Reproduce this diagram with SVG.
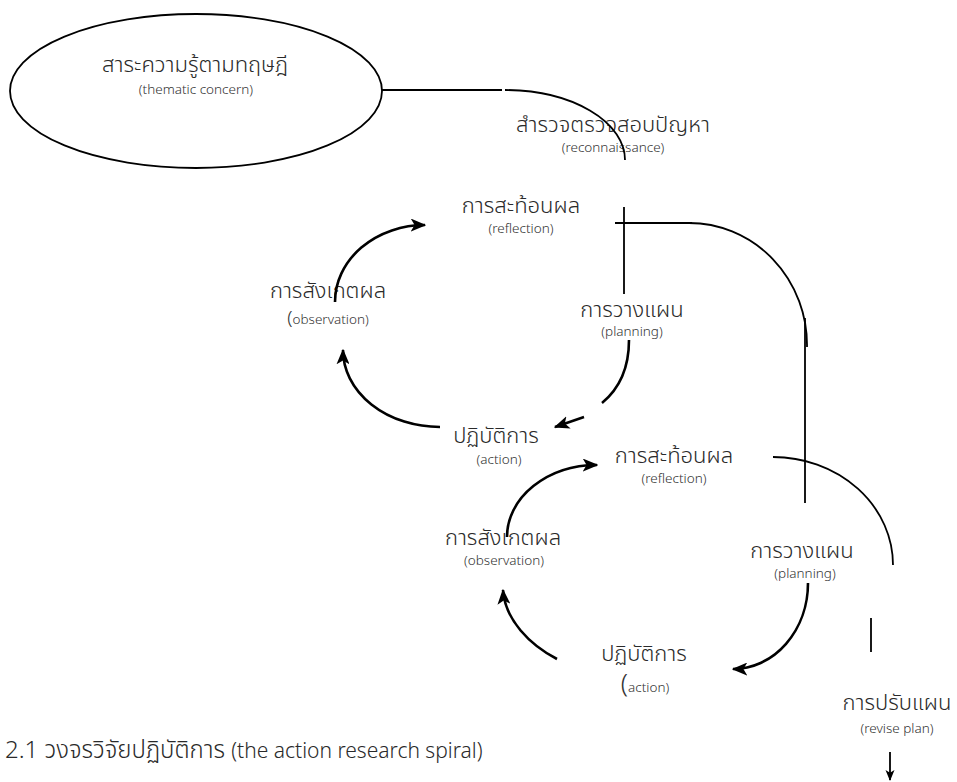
<svg xmlns="http://www.w3.org/2000/svg" width="957" height="782" viewBox="0 0 957 782">
<style>
  text { font-family: "Noto Sans", "Noto Sans Thai", "Leelawadee UI", "DejaVu Sans", sans-serif; fill: #2a2a2a; text-anchor: middle; }
  .th { font-size: 22px; font-weight: 300; }
  .en { font-size: 13.5px; fill: #333; font-weight: 300; }
  .ln { fill: none; stroke: #000; stroke-width: 1.8; }
  .cy { fill: none; stroke: #000; stroke-width: 2.6; }
  .cap { text-anchor: start; font-weight: 300; }
</style>
<defs>
  <marker id="ah" viewBox="0 0 12 10" refX="11" refY="5" markerWidth="6" markerHeight="5" orient="auto" markerUnits="strokeWidth">
    <path d="M0,0 L12,5 L0,10 L3,5 z" fill="#000"/>
  </marker>
  <marker id="ahs" viewBox="0 0 12 10" refX="11" refY="5" markerWidth="6" markerHeight="6" orient="auto" markerUnits="strokeWidth">
    <path d="M0,0 L12,5 L0,10 L3,5 z" fill="#000"/>
  </marker>
</defs>

<g id="thematic">
  <ellipse cx="196" cy="91" rx="186" ry="77" fill="none" stroke="#000" stroke-width="1.8"/>
  <text class="th" x="195" y="72">สาระความรู้ตามทฤษฎี</text>
  <text class="en" x="196" y="94">(thematic concern)</text>
</g>

<g id="reconnaissance">
  <text class="th" x="613" y="132">สำรวจตรวจสอบปัญหา</text>
  <text class="en" x="613" y="152">(reconnaissance)</text>
</g>

<g id="reflection1">
  <text class="th" x="521" y="213">การสะท้อนผล</text>
  <text class="en" x="521" y="233">(reflection)</text>
</g>
<g id="planning1">
  <text class="th" x="632" y="317">การวางแผน</text>
  <text class="en" x="632" y="336">(planning)</text>
</g>
<g id="observation1">
  <text class="th" x="328" y="298">การสังเกตผล</text>
  <text class="en" x="328" y="324"><tspan style="font-size:19px">(</tspan>observation)</text>
</g>
<g id="action1">
  <text class="th" x="496" y="443">ปฏิบัติการ</text>
  <text class="en" x="499" y="464">(action)</text>
</g>

<g id="reflection2">
  <text class="th" x="674" y="463">การสะท้อนผล</text>
  <text class="en" x="674" y="483">(reflection)</text>
</g>
<g id="planning2">
  <text class="th" x="802" y="558">การวางแผน</text>
  <text class="en" x="805" y="578">(planning)</text>
</g>
<g id="observation2">
  <text class="th" x="503" y="545">การสังเกตผล</text>
  <text class="en" x="504" y="565">(observation)</text>
</g>
<g id="action2">
  <text class="th" x="644" y="661">ปฏิบัติการ</text>
  <text class="en" x="645" y="692"><tspan style="font-size:26px">(</tspan>action)</text>
</g>
<g id="revise">
  <text class="th" x="897" y="710">การปรับแผน</text>
  <text class="en" x="897" y="733">(revise plan)</text>
</g>

<g id="connectors">
  <path class="ln" d="M382,90 L502,90"/>
  <path class="ln" d="M505,90 A120,70 0 0 1 625,160"/>
  <path class="ln" d="M624,207 L624,294"/>
  <path class="ln" d="M615,223 L692,223"/>
  <path class="ln" d="M688,223 A118,122 0 0 1 807,347"/>
  <path class="ln" d="M805,318 L805,503"/>
  <path class="cy" d="M629,340 C629,368 619,389 602,403"/>
  <path class="cy" d="M584,417 L555,427" marker-end="url(#ah)"/>
  <path class="cy" d="M440,427 A97,77 0 0 1 343,350" marker-end="url(#ah)"/>
  <path class="cy" d="M335,302 A90,77 0 0 1 425,225" marker-end="url(#ah)"/>
  <path class="ln" d="M773,457 A120,108 0 0 1 893,565"/>
  <path class="cy" d="M808,583 A75,86 0 0 1 733,669" marker-end="url(#ah)"/>
  <path class="cy" d="M557,659 C530,645 505,620 503,590" marker-end="url(#ah)"/>
  <path class="cy" d="M507,537 A90,72 0 0 1 597,465" marker-end="url(#ah)"/>
  <path class="ln" d="M871,618 L871,652"/>
  <path class="ln" d="M890,752 L890,780" marker-end="url(#ahs)"/>
</g>

<text class="cap" x="5" y="758"><tspan style="font-size:24px">2.1 วงจรวิจัยปฏิบัติการ </tspan><tspan style="font-size:21px">(the action research spiral)</tspan></text>
</svg>
